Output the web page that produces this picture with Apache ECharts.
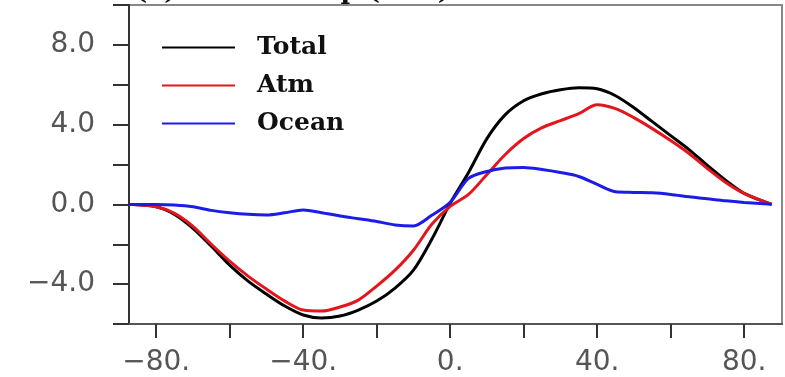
<!DOCTYPE html>
<html>
<head>
<meta charset="utf-8">
<script src="https://cdn.jsdelivr.net/npm/echarts@6/dist/echarts.min.js"></script>
<style>
  html, body { margin: 0; padding: 0; background: #fff; }
  #heatChart { width: 785px; height: 377px; }
</style>
</head>
<body>
<div id="heatChart"></div>
<script>
// latitude (deg)
var lats = [-87.5, -80, -75, -70, -65, -60, -55, -50, -45, -40, -35, -30, -25, -20, -15, -10, -5, 0,
  5, 10, 15, 20, 25, 30, 35, 40, 45, 50, 55, 60, 65, 70, 75, 80, 87.5];
// heat transport (PW)
var totalVals = [0, -0.12, -0.5, -1.2, -2.1, -3.05, -3.85, -4.5, -5.1, -5.55, -5.7, -5.6, -5.3, -4.85, -4.2, -3.3, -1.75, 0.05,
  1.6, 3.3, 4.5, 5.2, 5.55, 5.75, 5.85, 5.8, 5.45, 4.85, 4.15, 3.45, 2.75, 1.95, 1.2, 0.55, 0];
var atmVals = [0, -0.12, -0.45, -1.1, -2.0, -2.85, -3.6, -4.25, -4.85, -5.3, -5.35, -5.15, -4.8, -4.1, -3.3, -2.3, -1.0, -0.1,
  0.5, 1.5, 2.5, 3.3, 3.85, 4.2, 4.55, 5.0, 4.8, 4.35, 3.8, 3.2, 2.55, 1.8, 1.1, 0.55, 0];
var oceanVals = [0, 0.0, -0.03, -0.12, -0.3, -0.42, -0.5, -0.53, -0.42, -0.28, -0.42, -0.58, -0.72, -0.86, -1.03, -1.08, -0.55, 0.1,
  1.3, 1.65, 1.82, 1.85, 1.75, 1.6, 1.4, 1.0, 0.63, 0.6, 0.58, 0.5, 0.38, 0.28, 0.18, 0.1, 0];

var seriesNames = ["Total", "Atm", "Ocean"];
var seriesColors = ["#000000", "#e3161e", "#1c1ce6"];
var xTickValues = [-80, -60, -40, -20, 0, 20, 40, 60, 80];
var xLabelValues = [-80, -40, 0, 40, 80];

function pairs(vals) {
  var out = [];
  for (var i = 0; i < lats.length; i++) {
    out.push([lats[i], vals[i]]);
  }
  return out;
}

function minusSign(s) {
  return s.charAt(0) == "-" ? "\u2212" + s.slice(1) : s;
}

var chart = echarts.init(document.getElementById("heatChart"));

var labelFont = {
  color: "#555",
  fontFamily: "DejaVu Sans",
  fontSize: 28,
};

var allVals = [totalVals, atmVals, oceanVals];
var series = [];
for (var i = 0; i < seriesNames.length; i++) {
  series.push({
    name: seriesNames[i],
    type: "line",
    data: pairs(allVals[i]),
    smooth: 0.3,
    showSymbol: false,
    color: seriesColors[i],
    lineStyle: { width: 3 },
    animation: false,
  });
}

var option = {
  backgroundColor: "#fff",
  title: {
    text: "(a) Heat transp (CSS)",
    left: 130,
    top: -26,
    textStyle: {
      fontFamily: "DejaVu Serif",
      fontWeight: "bold",
      fontSize: 26,
      color: "#111",
    },
  },
  legend: {
    orient: "vertical",
    left: 157,
    top: 30,
    icon: "rect",
    itemWidth: 73,
    itemHeight: 2,
    itemGap: 13,
    data: seriesNames,
    textStyle: {
      fontFamily: "DejaVu Serif",
      fontWeight: "bold",
      fontSize: 25,
      color: "#111",
      padding: [0, 0, 6, 17],
    },
  },
  grid: {
    left: 129,
    right: 3,
    top: 5,
    bottom: 51,
    show: true,
    borderColor: "#888",
    borderWidth: 2,
  },
  xAxis: {
    type: "value",
    min: -87.4,
    max: 90.3,
    splitLine: { show: false },
    axisLine: { onZero: false, lineStyle: { color: "#555", width: 2 } },
    axisTick: {
      length: 14,
      customValues: xTickValues,
      lineStyle: { color: "#333", width: 2 },
    },
    axisLabel: Object.assign({}, labelFont, {
      margin: 25,
      customValues: xLabelValues,
      formatter: function (v) {
        return minusSign(String(v) + ".");
      },
    }),
  },
  yAxis: {
    type: "value",
    min: -6,
    max: 10,
    interval: 2,
    splitLine: { show: false },
    axisLine: { onZero: false, lineStyle: { color: "#333", width: 2 } },
    axisTick: { length: 16, lineStyle: { color: "#333", width: 2 } },
    axisLabel: Object.assign({}, labelFont, {
      margin: 34,
      formatter: function (v) {
        if (v % 4 != 0) {
          return "";
        }
        return minusSign(v.toFixed(1));
      },
    }),
  },
  series: series,
};

chart.setOption(option);
</script>
</body>
</html>
